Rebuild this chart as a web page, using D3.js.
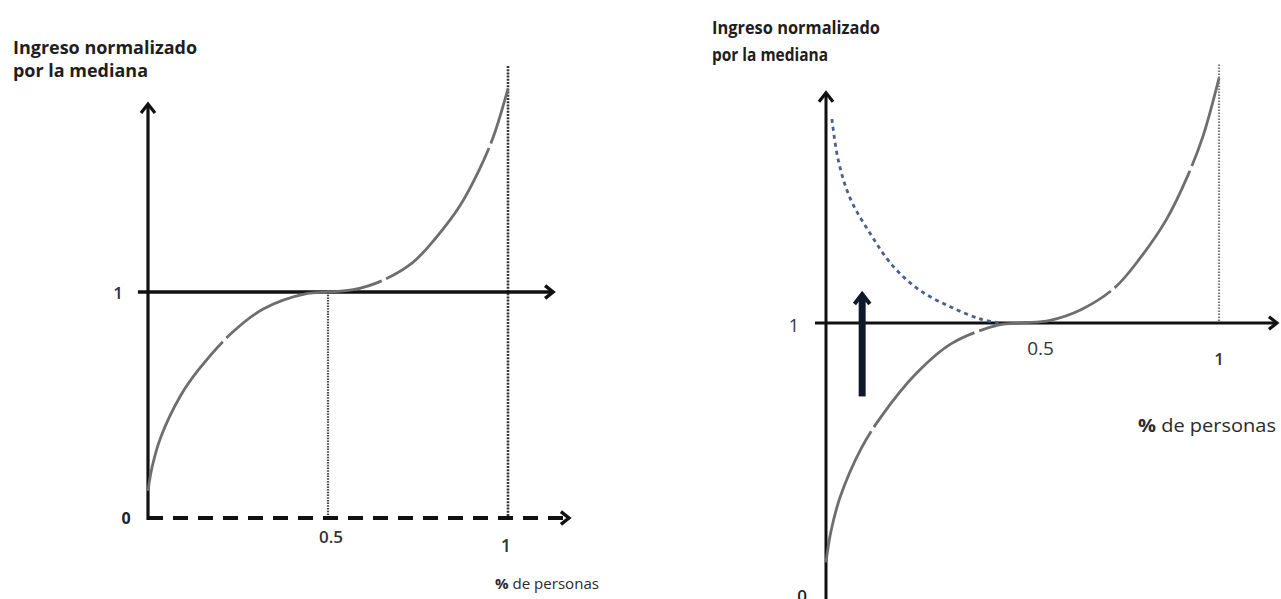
<!DOCTYPE html>
<html>
<head>
<meta charset="utf-8">
<script src="https://cdn.jsdelivr.net/npm/d3@7"></script>
<style>
  body { margin: 0; background: #fff; }
  svg { display: block; }
  text { font-family: "Open Sans", "Noto Sans", sans-serif; }
</style>
</head>
<body>
<svg id="chart" width="1281" height="599"></svg>
<script>
// Income distribution normalised by the median (share of people on x)
const pctPersonas = [0, 0.012, 0.036, 0.09, 0.14, 0.23, 0.32, 0.44, 0.5, 0.57, 0.65, 0.735, 0.8, 0.866, 0.92, 0.96, 1];
const ingreso     = [0.12, 0.23, 0.36, 0.54, 0.655, 0.815, 0.925, 0.993, 1.0, 1.01, 1.05, 1.13, 1.24, 1.38, 1.54, 1.69, 1.9];

// Lower tail mirrored above the median (dotted blue)
const espejoPct     = [0.015, 0.031, 0.061, 0.112, 0.17, 0.239, 0.316, 0.392, 0.443];
const espejoIngreso = [1.75, 1.6, 1.46, 1.33, 1.21, 1.12, 1.06, 1.015, 1.0];

// Upward shift of the poorest incomes
const flechaPct = 0.092;
const flechaDesde = 0.73;
const flechaHasta = 1.11;

const xTickValues = [0.5, 1];
const xTickLabels = ["0.5", "1"];
const yTickValues = [0, 1];
const yTickLabels = ["0", "1"];
const yTitleLines = ["Ingreso normalizado", "por la mediana"];
const xTitle = "% de personas";

const svg = d3.select("#chart");
const line = (x, y) => d3.line().x(d => x(d[0])).y(d => y(d[1])).curve(d3.curveCatmullRom.alpha(0.5));
const curva = d3.zip(pctPersonas, ingreso);
const espejo = d3.zip(espejoPct, espejoIngreso);

// open chevron arrow head
function chevron(g, px, py, dir, size, width, color) {
  const s = size;
  const p = dir === "up"
    ? `M${px - s * 0.7},${py + s} L${px},${py + 1} L${px + s * 0.7},${py + s}`
    : `M${px - s},${py - s * 0.7} L${px - 1},${py} L${px - s},${py + s * 0.7}`;
  g.append("path").attr("d", p).attr("fill", "none")
    .attr("stroke", color).attr("stroke-width", width)
    .attr("stroke-linejoin", "miter").attr("stroke-linecap", "butt");
}

function titles(g, x0, y0, gap, widths, size) {
  yTitleLines.forEach((t, i) => {
    g.append("text").attr("x", x0).attr("y", y0 + i * gap)
      .attr("font-size", size).attr("font-weight", 700).attr("fill", "#1e1e1e")
      .attr("textLength", widths[i]).attr("lengthAdjust", "spacingAndGlyphs")
      .text(t);
  });
}

function xTitleText(g, x0, y0, w, size) {
  const t = g.append("text").attr("x", x0).attr("y", y0)
    .attr("font-size", size).attr("fill", "#2a2a2a")
    .attr("textLength", w).attr("lengthAdjust", "spacingAndGlyphs");
  t.append("tspan").attr("font-weight", 700).text(xTitle.slice(0, 1));
  t.append("tspan").text(xTitle.slice(1));
}

// ---------------- Left panel ----------------
{
  const g = svg.append("g");
  const x = d3.scaleLinear().domain([0, 1]).range([148, 508]);
  const y = d3.scaleLinear().domain([0, 1]).range([518, 292]);

  // dotted guides at 0.5 and 1
  g.append("line").attr("x1", x(0.5)).attr("x2", x(0.5)).attr("y1", y(1)).attr("y2", y(0))
    .attr("stroke", "#444").attr("stroke-width", 2.2).attr("stroke-dasharray", "1.5,1.2");
  g.append("line").attr("x1", x(1)).attr("x2", x(1)).attr("y1", y(2)).attr("y2", y(0))
    .attr("stroke", "#333").attr("stroke-width", 2.6).attr("stroke-dasharray", "2,1.2");

  // dashed x axis at 0
  g.append("line").attr("x1", x(0)).attr("x2", x(1.165)).attr("y1", y(0)).attr("y2", y(0))
    .attr("stroke", "#111").attr("stroke-width", 4).attr("stroke-dasharray", "15,10");
  chevron(g, x(1.172), y(0), "right", 9, 3.4, "#111");

  // y axis
  g.append("line").attr("x1", x(0)).attr("x2", x(0)).attr("y1", y(0) + 2).attr("y2", y(1.83))
    .attr("stroke", "#111").attr("stroke-width", 3.2);
  chevron(g, x(0), y(1.836), "up", 10, 3.2, "#111");

  // median line
  g.append("line").attr("x1", x(-0.028)).attr("x2", x(1.12)).attr("y1", y(1)).attr("y2", y(1))
    .attr("stroke", "#111").attr("stroke-width", 3.4);
  chevron(g, x(1.128), y(1), "right", 9, 3.4, "#111");

  // distribution curve
  g.append("path").datum(curva).attr("d", line(x, y))
    .attr("fill", "none").attr("stroke", "#6e6e6e").attr("stroke-width", 2.8)
    .attr("stroke-dasharray", "170,5");

  // ticks
  g.append("text").attr("x", 118).attr("y", y(yTickValues[1]) + 7).attr("text-anchor", "middle")
    .attr("font-size", 17).attr("font-weight", 600).attr("fill", "#333").text(yTickLabels[1]);
  g.append("text").attr("x", 126).attr("y", y(yTickValues[0]) + 6).attr("text-anchor", "middle")
    .attr("font-size", 16).attr("font-weight", 700).attr("fill", "#222").text(yTickLabels[0]);
  g.append("text").attr("x", x(xTickValues[0]) + 3).attr("y", 543).attr("text-anchor", "middle")
    .attr("font-size", 17).attr("font-weight", 600).attr("fill", "#333").text(xTickLabels[0]);
  g.append("text").attr("x", x(xTickValues[1]) - 2).attr("y", 552).attr("text-anchor", "middle")
    .attr("font-size", 18).attr("font-weight", 600).attr("fill", "#333").text(xTickLabels[1]);

  titles(g, 13, 54, 23, [184, 135], 18);
  xTitleText(g, 495, 589, 104, 15);
}

// ---------------- Right panel ----------------
{
  const g = svg.append("g");
  const x = d3.scaleLinear().domain([0, 1]).range([826, 1219]);
  const y = d3.scaleLinear().domain([0, 1]).range([595, 323]);

  // dotted guide at 1
  g.append("line").attr("x1", x(1)).attr("x2", x(1)).attr("y1", y(1.95)).attr("y2", y(1))
    .attr("stroke", "#777").attr("stroke-width", 2.2).attr("stroke-dasharray", "1.5,1.5");

  // y axis
  g.append("line").attr("x1", x(0)).attr("x2", x(0)).attr("y1", 600).attr("y2", y(1.845))
    .attr("stroke", "#111").attr("stroke-width", 3);
  chevron(g, x(0), y(1.85), "up", 10, 3.2, "#111");

  // median line
  g.append("line").attr("x1", x(-0.028)).attr("x2", x(1.145)).attr("y1", y(1)).attr("y2", y(1))
    .attr("stroke", "#111").attr("stroke-width", 3.2);
  chevron(g, x(1.15), y(1), "right", 9, 3.2, "#111");

  // mirrored tail
  g.append("path").datum(espejo).attr("d", line(x, y))
    .attr("fill", "none").attr("stroke", "#4a5f92").attr("stroke-width", 2.8)
    .attr("stroke-dasharray", "4,4");

  // distribution curve
  g.append("path").datum(curva).attr("d", line(x, y))
    .attr("fill", "none").attr("stroke", "#6e6e6e").attr("stroke-width", 2.8)
    .attr("stroke-dasharray", "140,5");

  // shift arrow
  g.append("line").attr("x1", x(flechaPct)).attr("x2", x(flechaPct))
    .attr("y1", y(flechaDesde)).attr("y2", y(flechaHasta) + 3)
    .attr("stroke", "#0e1a2c").attr("stroke-width", 7);
  chevron(g, x(flechaPct), y(flechaHasta), "up", 11, 4, "#0e1a2c");

  // ticks
  g.append("text").attr("x", 794).attr("y", y(yTickValues[1]) + 9).attr("text-anchor", "middle")
    .attr("font-size", 18).attr("fill", "#333").text(yTickLabels[1]);
  g.append("text").attr("x", 802).attr("y", y(yTickValues[0]) + 7).attr("text-anchor", "middle")
    .attr("font-size", 17).attr("font-weight", 600).attr("fill", "#222").text(yTickLabels[0]);
  g.append("text").attr("x", x(xTickValues[0]) + 18).attr("y", 355).attr("text-anchor", "middle")
    .attr("font-size", 19).attr("fill", "#333").text(xTickLabels[0]);
  g.append("text").attr("x", x(xTickValues[1])).attr("y", 365).attr("text-anchor", "middle")
    .attr("font-size", 17).attr("font-weight", 600).attr("fill", "#333").text(xTickLabels[1]);

  titles(g, 712, 34, 27, [168, 116], 18);
  xTitleText(g, 1138, 432, 138, 18);
}
</script>
</body>
</html>
